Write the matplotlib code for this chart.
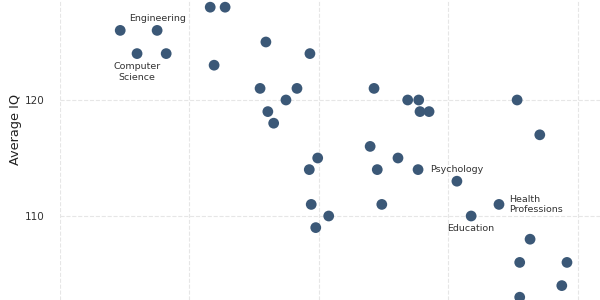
import matplotlib
matplotlib.use("Agg")
import matplotlib.pyplot as plt

# -------------------------------------------------------
# Data
# -------------------------------------------------------

share = [23.2, 25.5, 9.3, 15.0, 11.9, 16.4, 31.8, 23.8, 30.9, 36.6,
         34.9, 32.1, 33.0, 38.6, 48.5, 53.7, 55.4, 55.6, 57.0, 70.6,
         74.1, 47.9, 39.8, 38.5, 38.8, 41.5, 39.5, 52.2, 49.0, 55.3,
         61.3, 49.7, 63.5, 67.8, 72.6, 71.0, 78.3, 77.5, 71.0]
iq = [128, 128, 126, 126, 124, 124, 125, 123, 121, 121,
      120, 119, 118, 124, 121, 120, 120, 119, 119, 120,
      117, 116, 115, 114, 111, 110, 109, 115, 114, 114,
      113, 111, 110, 111, 108, 106, 106, 104, 103]

labels = ["Engineering", "Computer\nScience", "Psychology",
          "Education", "Health\nProfessions"]
label_x = [15.0, 11.9, 61.3, 63.5, 67.8]
label_y = [126, 124, 113, 110, 111]
label_pos = ["above", "below", "above", "below", "right"]

# -------------------------------------------------------
# Plot
# -------------------------------------------------------

fig = plt.figure(figsize=(6, 3), dpi=100)
ax = fig.add_axes([0.1, 0.0, 0.9, 1.0])

ax.scatter(share, iq, s=60, color="#3b5877", edgecolors="none", zorder=3)

offsets = {"above": ((0, 5), "center", "bottom"),
           "below": ((0, -6), "center", "top"),
           "right": ((7, 0), "left", "center")}
for txt, x, y, pos in zip(labels, label_x, label_y, label_pos):
    off, ha, va = offsets[pos]
    ax.annotate(txt, (x, y), xytext=off, textcoords="offset points",
                ha=ha, va=va, fontsize=6.8, color="#333333",
                multialignment="left" if pos == "right" else "center",
                linespacing=1.25)

ax.set_xlim(0, 83.4)
ax.set_ylim(102.76, 128.62)
ax.set_xticks([0, 20, 40, 60, 80])
ax.set_yticks([110, 120])
ax.tick_params(axis="x", length=0, labelbottom=False)
ax.tick_params(axis="y", length=0, pad=11, labelsize=7.5, labelcolor="#333333")
ax.grid(True, color="#e6e6e6", linestyle="--", linewidth=0.8)
ax.set_axisbelow(True)
for sp in ax.spines.values():
    sp.set_visible(False)

ax.set_ylabel("Average IQ", fontsize=9.3, color="#222222")
ax.yaxis.set_label_coords(-0.07, 0.57)

fig.savefig("out.png", dpi=100)
